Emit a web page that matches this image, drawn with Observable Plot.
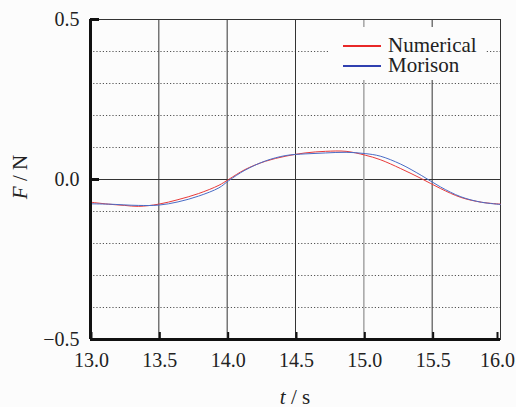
<!DOCTYPE html>
<html><head><meta charset="utf-8">
<script src="https://cdn.jsdelivr.net/npm/d3@7"></script>
<script src="https://cdn.jsdelivr.net/npm/@observablehq/plot@0.6"></script>
<style>
body{margin:0;background:#fcfcfc;}
#wrap{position:relative;width:516px;height:407px;font-family:"Liberation Serif","Times New Roman",Times,serif;color:#222;}
#wrap svg{display:block;}
.lab{position:absolute;font-size:21px;line-height:19px;white-space:nowrap;}
#legend{position:absolute;left:330px;top:27px;width:156px;height:53px;background:#fcfcfc;}
.item{position:absolute;left:13px;width:140px;height:20px;font-size:21px;line-height:19px;}
.item .sw{position:absolute;left:0;width:38px;height:2px;}
.item .tx{position:absolute;left:45px;white-space:nowrap;}
</style></head><body><div id="wrap"></div>
<script>
// Numerical (red)
const tNum = [13.0, 13.13, 13.25, 13.35, 13.5, 13.64, 13.79, 13.94, 14.01, 14.13, 14.28, 14.43, 14.57, 14.72, 14.87, 15.01, 15.12, 15.27, 15.42, 15.56, 15.71, 15.86, 16.0];
const fNum = [-0.071, -0.077, -0.081, -0.084, -0.077, -0.063, -0.044, -0.018, 0.0, 0.031, 0.057, 0.073, 0.083, 0.088, 0.088, 0.076, 0.062, 0.034, 0.003, -0.028, -0.056, -0.071, -0.077];
// Morison (blue)
const tMor = [13.0, 13.13, 13.35, 13.5, 13.64, 13.79, 13.94, 14.01, 14.13, 14.28, 14.43, 14.57, 14.72, 14.87, 15.01, 15.12, 15.27, 15.42, 15.56, 15.71, 15.86, 16.0];
const fMor = [-0.076, -0.077, -0.081, -0.080, -0.070, -0.052, -0.026, -0.004, 0.029, 0.058, 0.075, 0.080, 0.083, 0.085, 0.081, 0.073, 0.048, 0.013, -0.023, -0.054, -0.071, -0.078];

const xTicks = [13.0, 13.5, 14.0, 14.5, 15.0, 15.5, 16.0];
const yTicks = [-0.5, 0.0, 0.5];
const yDotted = [-0.4, -0.3, -0.2, -0.1, 0.1, 0.2, 0.3, 0.4];
const seriesNames = ["Numerical", "Morison"];
const lineColors = ["#e83a3a", "#4a6cc6"];
const legendColors = ["#e82828", "#3040b0"];

const numData = tNum.map((t, i) => ({t, f: fNum[i]}));
const morData = tMor.map((t, i) => ({t, f: fMor[i]}));
const fmt = d3.format(".1f");
const serif = "Liberation Serif";
const xLast = xTicks[xTicks.length - 1];

const chart = Plot.plot({
  width: 516, height: 407,
  marginLeft: 90, marginRight: 16, marginTop: 19, marginBottom: 68,
  style: {fontFamily: serif, fontSize: "20px", background: "#fcfcfc", color: "#222", overflow: "visible"},
  x: {domain: [13, 16], axis: null},
  y: {domain: [-0.5, 0.5], axis: null},
  marks: [
    Plot.ruleY(yDotted, {stroke: "#555", strokeDasharray: "1.2,2", strokeWidth: 1}),
    Plot.ruleY([0], {stroke: "#333", strokeWidth: 1}),
    Plot.ruleX(xTicks.filter(d => d > 13 && d < 16 && d !== 15), {stroke: "#333", strokeWidth: 1}),
    Plot.ruleX(xTicks.filter(d => d === 15), {stroke: "#aaa", strokeWidth: 1.6}),
    Plot.frame({stroke: "#333", strokeWidth: 1}),
    Plot.line(numData, {x: "t", y: "f", stroke: lineColors[0], strokeWidth: 1, curve: "catmull-rom"}),
    Plot.line(morData, {x: "t", y: "f", stroke: lineColors[1], strokeWidth: 1, curve: "catmull-rom"}),
    Plot.ruleX([13], {stroke: "#111", strokeWidth: 3}),
    Plot.ruleY([-0.5], {stroke: "#111", strokeWidth: 3}),
    Plot.axisY(yTicks, {anchor: "left", label: null, tickSize: -9, tickPadding: 20, strokeWidth: 3, stroke: "#111", tickFormat: fmt, fill: "#222", fontFamily: serif, fontSize: 20}),
    Plot.axisX(xTicks.filter(d => d !== xLast), {anchor: "bottom", label: null, tickSize: -7, tickPadding: 20, strokeWidth: 2, stroke: "#111", tickFormat: fmt, fill: "#222", fontFamily: serif, fontSize: 20, dx: 1}),
    Plot.axisX([xLast], {anchor: "bottom", label: null, tickSize: -7, tickPadding: 20, strokeWidth: 2, stroke: "#111", tickFormat: fmt, fill: "#222", fontFamily: serif, fontSize: 20, dx: -3})
  ]
});
const wrap = document.getElementById("wrap");
wrap.appendChild(chart);

// axis titles
const yl = document.createElement("div");
yl.className = "lab";
yl.innerHTML = "<i>F</i> / N";
yl.style.left = "20px"; yl.style.top = "177px";
yl.style.transform = "translate(-50%,-50%) rotate(-90deg)";
wrap.appendChild(yl);
const xl = document.createElement("div");
xl.className = "lab";
xl.innerHTML = "<i>t</i> / s";
xl.style.left = "295px"; xl.style.top = "397px";
xl.style.transform = "translate(-50%,-50%)";
wrap.appendChild(xl);

// legend
const lg = d3.select(wrap).append("div").attr("id", "legend");
seriesNames.forEach((name, i) => {
  const it = lg.append("div").attr("class", "item").style("top", (8 + i * 20) + "px");
  it.append("div").attr("class", "sw").style("top", "10px").style("background-color", legendColors[i]);
  it.append("div").attr("class", "tx").style("top", "1px").text(name);
});
</script></body></html>
